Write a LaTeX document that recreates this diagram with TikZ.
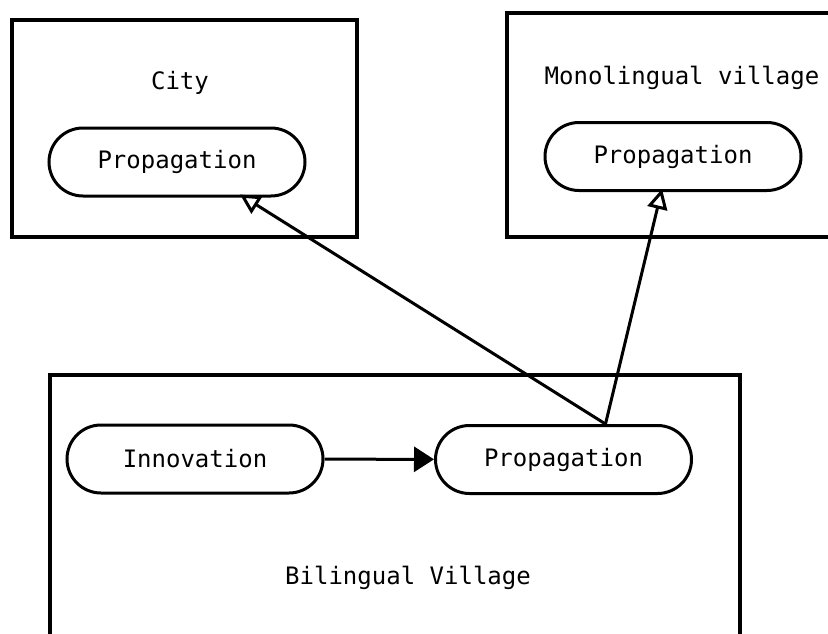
\documentclass[tikz,border=0pt]{standalone}
\usepackage{fontspec}
\setmonofont{DejaVu Sans Mono}
\usetikzlibrary{arrows.meta}

\tikzstyle{region}=[draw,line width=3.2pt,inner sep=0pt]
\tikzstyle{pill}=[draw,line width=3pt,rounded corners=34pt,minimum width=256pt,minimum height=68pt,font=\ttfamily\fontsize{24}{29}\selectfont]
\tikzstyle{title}=[font=\ttfamily\fontsize{24}{29}\selectfont]
\tikzstyle{spread}=[line width=3pt,-{Triangle[open,length=20pt,width=20pt]}]
\tikzstyle{flow}=[line width=3pt,-{Triangle[length=20pt,width=25pt]}]

\begin{document}
\begin{tikzpicture}[x=1pt,y=-1pt]
    \useasboundingbox (0,0) rectangle (828,634);
    \clip (0,0) rectangle (828,634);
    % the three places
    \node[region,minimum width=345pt,minimum height=217pt] (city) at (184.5,128.5) {};
    \node[region,minimum width=343pt,minimum height=224pt] (mono) at (678.5,125) {};
    \node[region,minimum width=690pt,minimum height=285pt] (bili) at (395,517.5) {};
    \node[title] (citylab) at (180,83) {City};
    \node[title] (monolab) at (682,78) {Monolingual village};
    \node[title] (bililab) at (408,578) {Bilingual Village};
    % processes
    \node[pill] (cprop) at (177,162) {Propagation};
    \node[pill] (mprop) at (673,156.5) {Propagation};
    \node[pill] (innov) at (195,459) {Innovation};
    \node[pill] (bprop) at (563.5,459.5) {Propagation};
    \coordinate (src) at ([xshift=42pt]bprop.north);
    \draw[flow] (innov) -- (bprop);
    \draw[spread] (src) -- ([xshift=63pt,yshift=3pt]cprop.south);
    \draw[spread] (src) -- ([xshift=-11pt,yshift=3pt]mprop.south);
\end{tikzpicture}
\end{document}
